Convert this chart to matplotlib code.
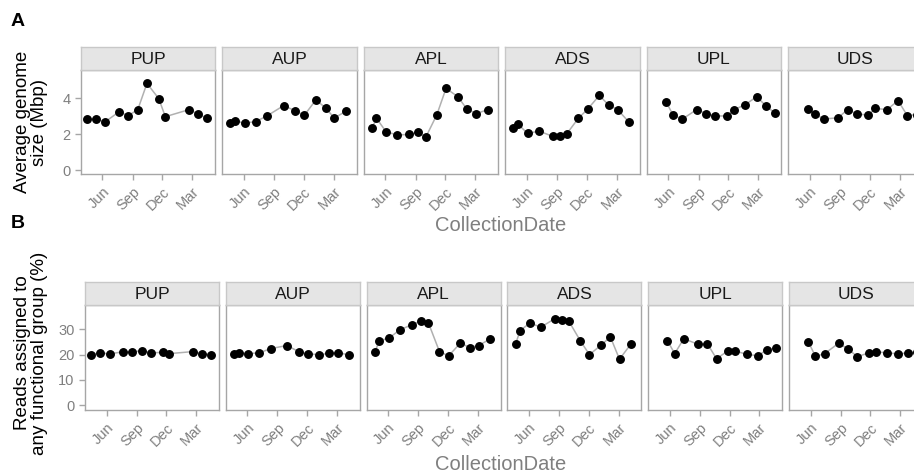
import matplotlib
matplotlib.use("Agg")
import matplotlib.pyplot as plt
import matplotlib.dates as mdates
import numpy as np

plt.rcParams['font.family'] = ['Liberation Sans', 'DejaVu Sans']

sites = ['PUP', 'AUP', 'APL', 'ADS', 'UPL', 'UDS']

# sampling dates per site
pup_dates = ['2011-04-14', '2011-05-12', '2011-06-10', '2011-07-21', '2011-08-19', '2011-09-17',
             '2011-10-15', '2011-11-20', '2011-12-10', '2012-02-20', '2012-03-18', '2012-04-16']
aup_dates = ['2011-04-20', '2011-05-05', '2011-06-03', '2011-07-07', '2011-08-12', '2011-09-30',
             '2011-11-05', '2011-12-02', '2012-01-07', '2012-02-05', '2012-03-03', '2012-04-07']
apl_dates = ['2011-04-21', '2011-05-05', '2011-06-03', '2011-07-08', '2011-08-13', '2011-09-10', '2011-10-02',
             '2011-11-05', '2011-12-03', '2012-01-08', '2012-02-05', '2012-03-04', '2012-04-08']
ads_dates = ['2011-04-21', '2011-05-05', '2011-06-03', '2011-07-08', '2011-08-19', '2011-09-10', '2011-10-01',
             '2011-11-05', '2011-12-03', '2012-01-08', '2012-02-05', '2012-03-04', '2012-04-08']
upl_dates = ['2011-05-25', '2011-06-16', '2011-07-14', '2011-08-26', '2011-09-24', '2011-10-22',
             '2011-11-26', '2011-12-18', '2012-01-22', '2012-02-25', '2012-03-24', '2012-04-22']
uds_dates = ['2011-05-25', '2011-06-16', '2011-07-14', '2011-08-26', '2011-09-24', '2011-10-22',
             '2011-11-26', '2011-12-18', '2012-01-22', '2012-02-25', '2012-03-24', '2012-04-22']

# average genome size (Mbp)
pup_genome = [2.85, 2.85, 2.70, 3.24, 3.04, 3.37, 4.83, 3.98, 2.98, 3.37, 3.13, 2.89]
aup_genome = [2.63, 2.74, 2.63, 2.70, 3.04, 3.59, 3.31, 3.05, 3.92, 3.46, 2.91, 3.28]
apl_genome = [2.33, 2.89, 2.15, 1.96, 2.00, 2.11, 1.83, 3.09, 4.55, 4.09, 3.39, 3.15, 3.37]
ads_genome = [2.37, 2.57, 2.05, 2.18, 1.89, 1.89, 2.04, 2.89, 3.39, 4.16, 3.63, 3.37, 2.66]
upl_genome = [3.81, 3.05, 2.85, 3.37, 3.15, 3.02, 3.02, 3.37, 3.65, 4.09, 3.59, 3.16]
uds_genome = [3.41, 3.13, 2.85, 2.92, 3.37, 3.13, 3.07, 3.44, 3.37, 3.87, 3.04, 3.10]

# reads assigned to any functional group (%)
pup_reads = [20.0, 20.7, 20.3, 21.1, 21.1, 21.6, 20.7, 20.9, 20.4, 21.2, 20.4, 20.0]
aup_reads = [20.4, 20.8, 20.4, 20.7, 22.4, 23.6, 21.2, 20.3, 20.0, 20.5, 20.8, 19.9]
apl_reads = [20.9, 25.5, 26.5, 29.9, 31.8, 33.3, 32.6, 21.2, 19.5, 24.6, 22.8, 23.6, 26.2]
ads_reads = [24.2, 29.5, 32.4, 30.9, 34.2, 33.8, 33.2, 25.5, 20.0, 23.8, 27.0, 18.2, 24.2]
upl_reads = [25.5, 20.4, 26.3, 24.1, 24.3, 18.4, 21.5, 21.5, 20.1, 19.6, 21.8, 22.8]
uds_reads = [25.1, 19.3, 20.4, 24.5, 22.2, 19.2, 20.7, 21.1, 20.7, 20.3, 20.7, 20.9]

dates = [pup_dates, aup_dates, apl_dates, ads_dates, upl_dates, uds_dates]
genome = [pup_genome, aup_genome, apl_genome, ads_genome, upl_genome, uds_genome]
reads = [pup_reads, aup_reads, apl_reads, ads_reads, upl_reads, uds_reads]

genome_ticks = [0, 2, 4]
reads_ticks = [0, 10, 20, 30]

W, H = 914, 474
fig = plt.figure(figsize=(W / 100, H / 100), dpi=100)

grey_txt = '#7f7f7f'
border = '#a6a6a6'
xlim = (np.datetime64('2011-03-27'), np.datetime64('2012-05-10'))


def draw_row(values, yticks, ylim, left0, step, width, top, strip_h, plot_h):
    for i, site in enumerate(sites):
        x0 = (left0 + i * step) / W
        ax = fig.add_axes([x0, 1 - (top + strip_h + plot_h) / H, width / W, plot_h / H])
        st = fig.add_axes([x0, 1 - (top + strip_h) / H, width / W, strip_h / H])

        x = np.array(dates[i], dtype='datetime64[D]')
        ax.plot(x, values[i], color='#b0b0b0', lw=1.1, zorder=2)
        ax.plot(x, values[i], 'o', color='black', ms=5.4, zorder=3)

        ax.set_xlim(*xlim)
        ax.set_ylim(*ylim)
        ax.set_yticks(yticks)
        ax.xaxis.set_major_locator(mdates.MonthLocator(bymonth=[3, 6, 9, 12]))
        ax.xaxis.set_major_formatter(mdates.DateFormatter('%b'))
        ax.tick_params(colors=border, labelcolor=grey_txt, labelsize=10.5,
                       length=4, width=1, direction='out')
        for lab in ax.get_xticklabels():
            lab.set_rotation(45)
            lab.set_ha('right')
            lab.set_va('top')
            lab.set_rotation_mode('anchor')
        if i > 0:
            ax.tick_params(axis='y', left=False, labelleft=False)
        for sp in ax.spines.values():
            sp.set_color(border)
            sp.set_linewidth(1)

        st.set_facecolor('#e5e5e5')
        st.set_xticks([])
        st.set_yticks([])
        for sp in st.spines.values():
            sp.set_color('#c8c8c8')
            sp.set_linewidth(1)
        st.text(0.5, 0.45, site, transform=st.transAxes, ha='center', va='center',
                fontsize=12.5, color='#1a1a1a')


draw_row(genome, genome_ticks, (-0.2, 5.57), 80.7, 141.5, 134.5, 47, 23, 104)
draw_row(reads, reads_ticks, (-1.86, 39.6), 85.0, 140.8, 134.0, 282, 23, 105)

# panel letters and axis titles
fig.text(11 / W, 1 - 21 / H, 'A', fontsize=14, fontweight='bold', ha='left', va='center')
fig.text(11 / W, 1 - 224 / H, 'B', fontsize=14, fontweight='bold', ha='left', va='center')

fig.text(31 / W, 1 - 122 / H, 'Average genome\nsize (Mbp)', rotation=90, fontsize=13.5,
         ha='center', va='center', multialignment='center', linespacing=1.05)
fig.text(31 / W, 1 - 353 / H, 'Reads assigned to\nany functional group (%)', rotation=90,
         fontsize=13.5, ha='center', va='center', multialignment='center', linespacing=1.05)

fig.text(501 / W, 1 - 226 / H, 'CollectionDate', fontsize=14.5, color=grey_txt,
         ha='center', va='center')
fig.text(501 / W, 1 - 464 / H, 'CollectionDate', fontsize=14.5, color=grey_txt,
         ha='center', va='center')

fig.savefig('out.png', dpi=100)
